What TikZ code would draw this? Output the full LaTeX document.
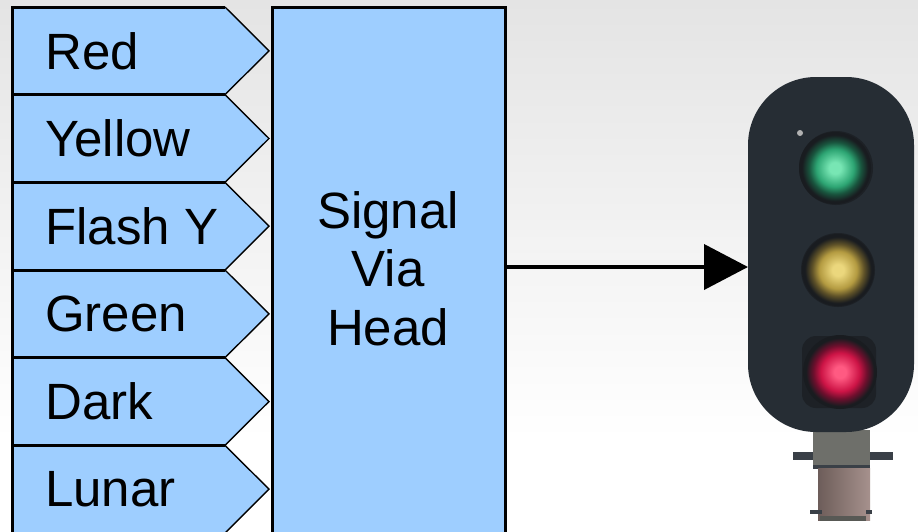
\documentclass[tikz,border=0pt]{standalone}
\usepackage{fontspec}
\setmainfont{Liberation Sans}
\usetikzlibrary{arrows.meta,calc}
\definecolor{boxblue}{HTML}{9ECEFF}
\definecolor{bgtop}{HTML}{E4E4E4}
\definecolor{bodycol}{HTML}{262D34}
\definecolor{hoodcol}{HTML}{191C20}
\definecolor{postgray}{HTML}{6E6F6A}
\definecolor{postpink}{HTML}{9C8580}
\definecolor{bracket}{HTML}{3A4047}
\definecolor{gA}{RGB}{120,230,180}
\definecolor{gB}{RGB}{45,165,115}
\definecolor{gC}{RGB}{25,85,62}
\definecolor{yA}{RGB}{235,215,125}
\definecolor{yB}{RGB}{180,155,65}
\definecolor{yC}{RGB}{95,82,40}
\definecolor{rA}{RGB}{255,90,130}
\definecolor{rB}{RGB}{205,20,70}
\definecolor{rC}{RGB}{110,15,45}
\pgfdeclareradialshading{greenlamp}{\pgfpoint{0bp}{0bp}}{color(0bp)=(gA); color(4bp)=(gA); color(13bp)=(gB); color(18bp)=(gC); color(23bp)=(hoodcol); color(50bp)=(hoodcol)}
\pgfdeclareradialshading{yellowlamp}{\pgfpoint{0bp}{0bp}}{color(0bp)=(yA); color(4bp)=(yA); color(13bp)=(yB); color(18bp)=(yC); color(23bp)=(hoodcol); color(50bp)=(hoodcol)}
\pgfdeclareradialshading{redlamp}{\pgfpoint{0bp}{0bp}}{color(0bp)=(rA); color(4bp)=(rA); color(13bp)=(rB); color(18bp)=(rC); color(23bp)=(hoodcol); color(50bp)=(hoodcol)}
\tikzset{
  thickline/.style={line width=3pt, black},
  chevron/.style={line width=1.4pt, black},
  lbl/.style={font=\fontsize{51}{58.5}\selectfont, inner sep=0pt, anchor=west},
  bigbox/.style={draw, line width=3pt, fill=boxblue, minimum width=233pt, minimum height=540pt, anchor=north west, inner sep=0pt, outer sep=0pt},
  bigtext/.style={font=\fontsize{51}{58.5}\selectfont, align=center, inner sep=0pt},
  lamp/.style={fill=bodycol, rounded corners=68pt, minimum width=166pt, minimum height=355pt, anchor=north west, inner sep=0pt, outer sep=0pt},
  sig/.style={line width=4pt, -{Triangle[length=44pt, width=45pt]}}
}
\begin{document}
\begin{tikzpicture}[x=1pt, y=-1pt]
\useasboundingbox (0,0) rectangle (918,531);
\clip (0,0) rectangle (918,531);
% background
\fill[white] (0,0) rectangle (918,531);
\shade[top color=bgtop, bottom color=white] (0,0) rectangle (918,440);
% input rows
\foreach \i/\t in {0/Red,1/Yellow,2/Flash Y,3/Green,4/Dark,5/Lunar}{
  \pgfmathsetmacro{\ya}{7+87.67*\i}
  \pgfmathsetmacro{\ym}{\ya+43.83}
  \pgfmathsetmacro{\yb}{\ya+87.67}
  \fill[boxblue] (12,\ya) -- (225,\ya) -- (269,\ym) -- (225,\yb) -- (12,\yb) -- cycle;
  \draw[thickline] (225,\ya) -- (12,\ya) -- (12,\yb) -- (225,\yb);
  \draw[chevron] (225,\ya) -- (269,\ym) -- (225,\yb);
  \node[lbl] (in\i) at (45,\ym) {\t};
}
% main box
\node[bigbox] (box) at (272,7) {};
\node[bigtext] (boxtext) at (388,268.5) {Signal\\Via\\Head};
% signal head
\fill[bracket] (793,452) rectangle (893,460);
\fill[postgray] (813,430) rectangle (870,468);
\fill[bracket] (813,465) rectangle (870,469);
\shade[left color=postpink!70!black, right color=postpink!90!white] (818,468) rectangle (870,520);
\fill[bracket] (810,510) rectangle (822,514);
\fill[bracket] (866,510) rectangle (872,514);
\fill[postgray!80!black] (820,516) rectangle (866,521);
\node[lamp] (light) at (748,77) {};
\fill[gray!60] (800,133) circle (3);
\fill[hoodcol!70!bodycol] (836,168) circle (37);
\fill[hoodcol!70!bodycol] (838,270) circle (37);
\fill[hoodcol!70!bodycol, rounded corners=14pt] (802,336) rectangle (876,408);
\shade[shading=greenlamp] (835,168) circle (36);
\shade[shading=yellowlamp] (838,270) circle (36);
\shade[shading=redlamp] (840,372) circle (37);
% connector
\coordinate (tip) at (light.west |- 0,267);
\draw[sig] (box.east |- tip) -- (tip);
\end{tikzpicture}
\end{document}
